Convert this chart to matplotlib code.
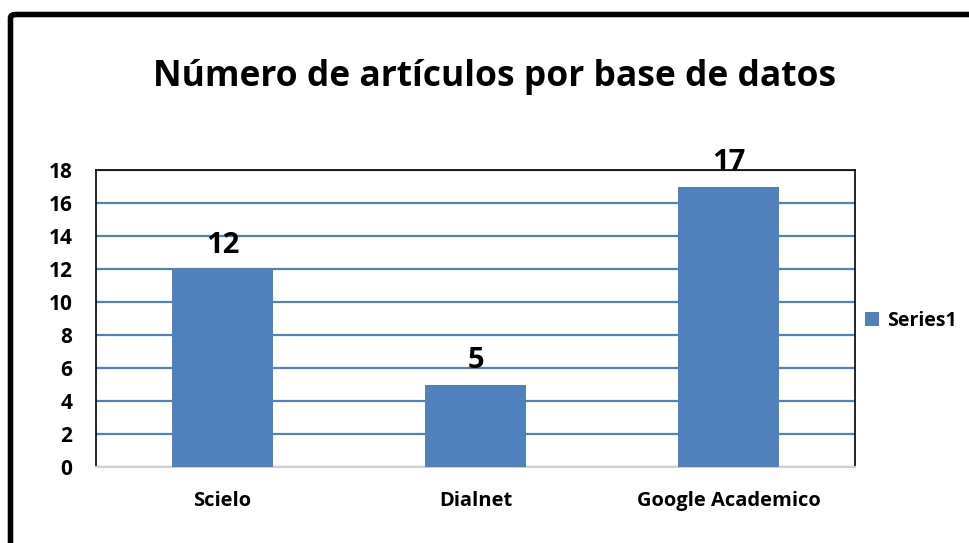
import matplotlib
matplotlib.use("Agg")
import matplotlib.pyplot as plt
from matplotlib.patches import FancyBboxPatch

categories = ["Scielo", "Dialnet", "Google Academico"]
values = [12, 5, 17]
yticks = [0, 2, 4, 6, 8, 10, 12, 14, 16, 18]
series_name = "Series1"
title = "Número de artículos por base de datos"

blue = "#4F81BD"
fam = ["Open Sans", "DejaVu Sans"]

fig = plt.figure(figsize=(9.7, 5.43), dpi=100)
ax = fig.add_axes([96/970, 1-467/543, (855-96)/970, (467-170)/543])

x = list(range(len(categories)))
bars = ax.bar(x, values, width=0.4, color=blue, label=series_name, zorder=3)
ax.set_xlim(-0.5, len(categories)-0.5)
ax.set_ylim(0, 18)
ax.set_yticks(yticks)
ax.set_yticklabels([str(t) for t in yticks], fontfamily=fam, fontweight="bold", fontsize=15)
ax.set_xticks(x)
ax.set_xticklabels(categories, fontfamily=fam, fontweight="bold", fontsize=14.5)
ax.tick_params(axis="y", length=0, pad=17)
ax.tick_params(axis="x", length=0, pad=17)
ax.yaxis.grid(True, color=blue, linewidth=1.6, zorder=1)
ax.set_axisbelow(True)
for s in ["left", "right", "top"]:
    ax.spines[s].set_color("black")
    ax.spines[s].set_linewidth(1.2)
ax.spines["bottom"].set_color("#D0D0D0")
ax.spines["bottom"].set_linewidth(1.5)

for xi, v in zip(x, values):
    ax.annotate(str(v), (xi, v), xytext=(0, 6.5), textcoords="offset points",
                ha="center", va="bottom", fontfamily=fam, fontweight="bold", fontsize=21)

fig.text(495/970, 1-77/543, title, ha="center", va="center",
         fontfamily=fam, fontweight="bold", fontsize=25.5)

leg = fig.legend(handles=[bars], labels=[series_name], loc="center left",
                 bbox_to_anchor=(848/970, 1-321/543), frameon=False,
                 prop={"family": fam, "weight": "bold", "size": 14},
                 handlelength=0.7, handleheight=0.7, handletextpad=0.4)

border = FancyBboxPatch((10.5/970, -0.2), 1.2, 1-14.5/543+0.2,
                        boxstyle="round,pad=0,rounding_size=0.006",
                        transform=fig.transFigure, fill=False,
                        edgecolor="black", linewidth=4, clip_on=False)
fig.patches.append(border)

fig.savefig("out.png", dpi=100)
